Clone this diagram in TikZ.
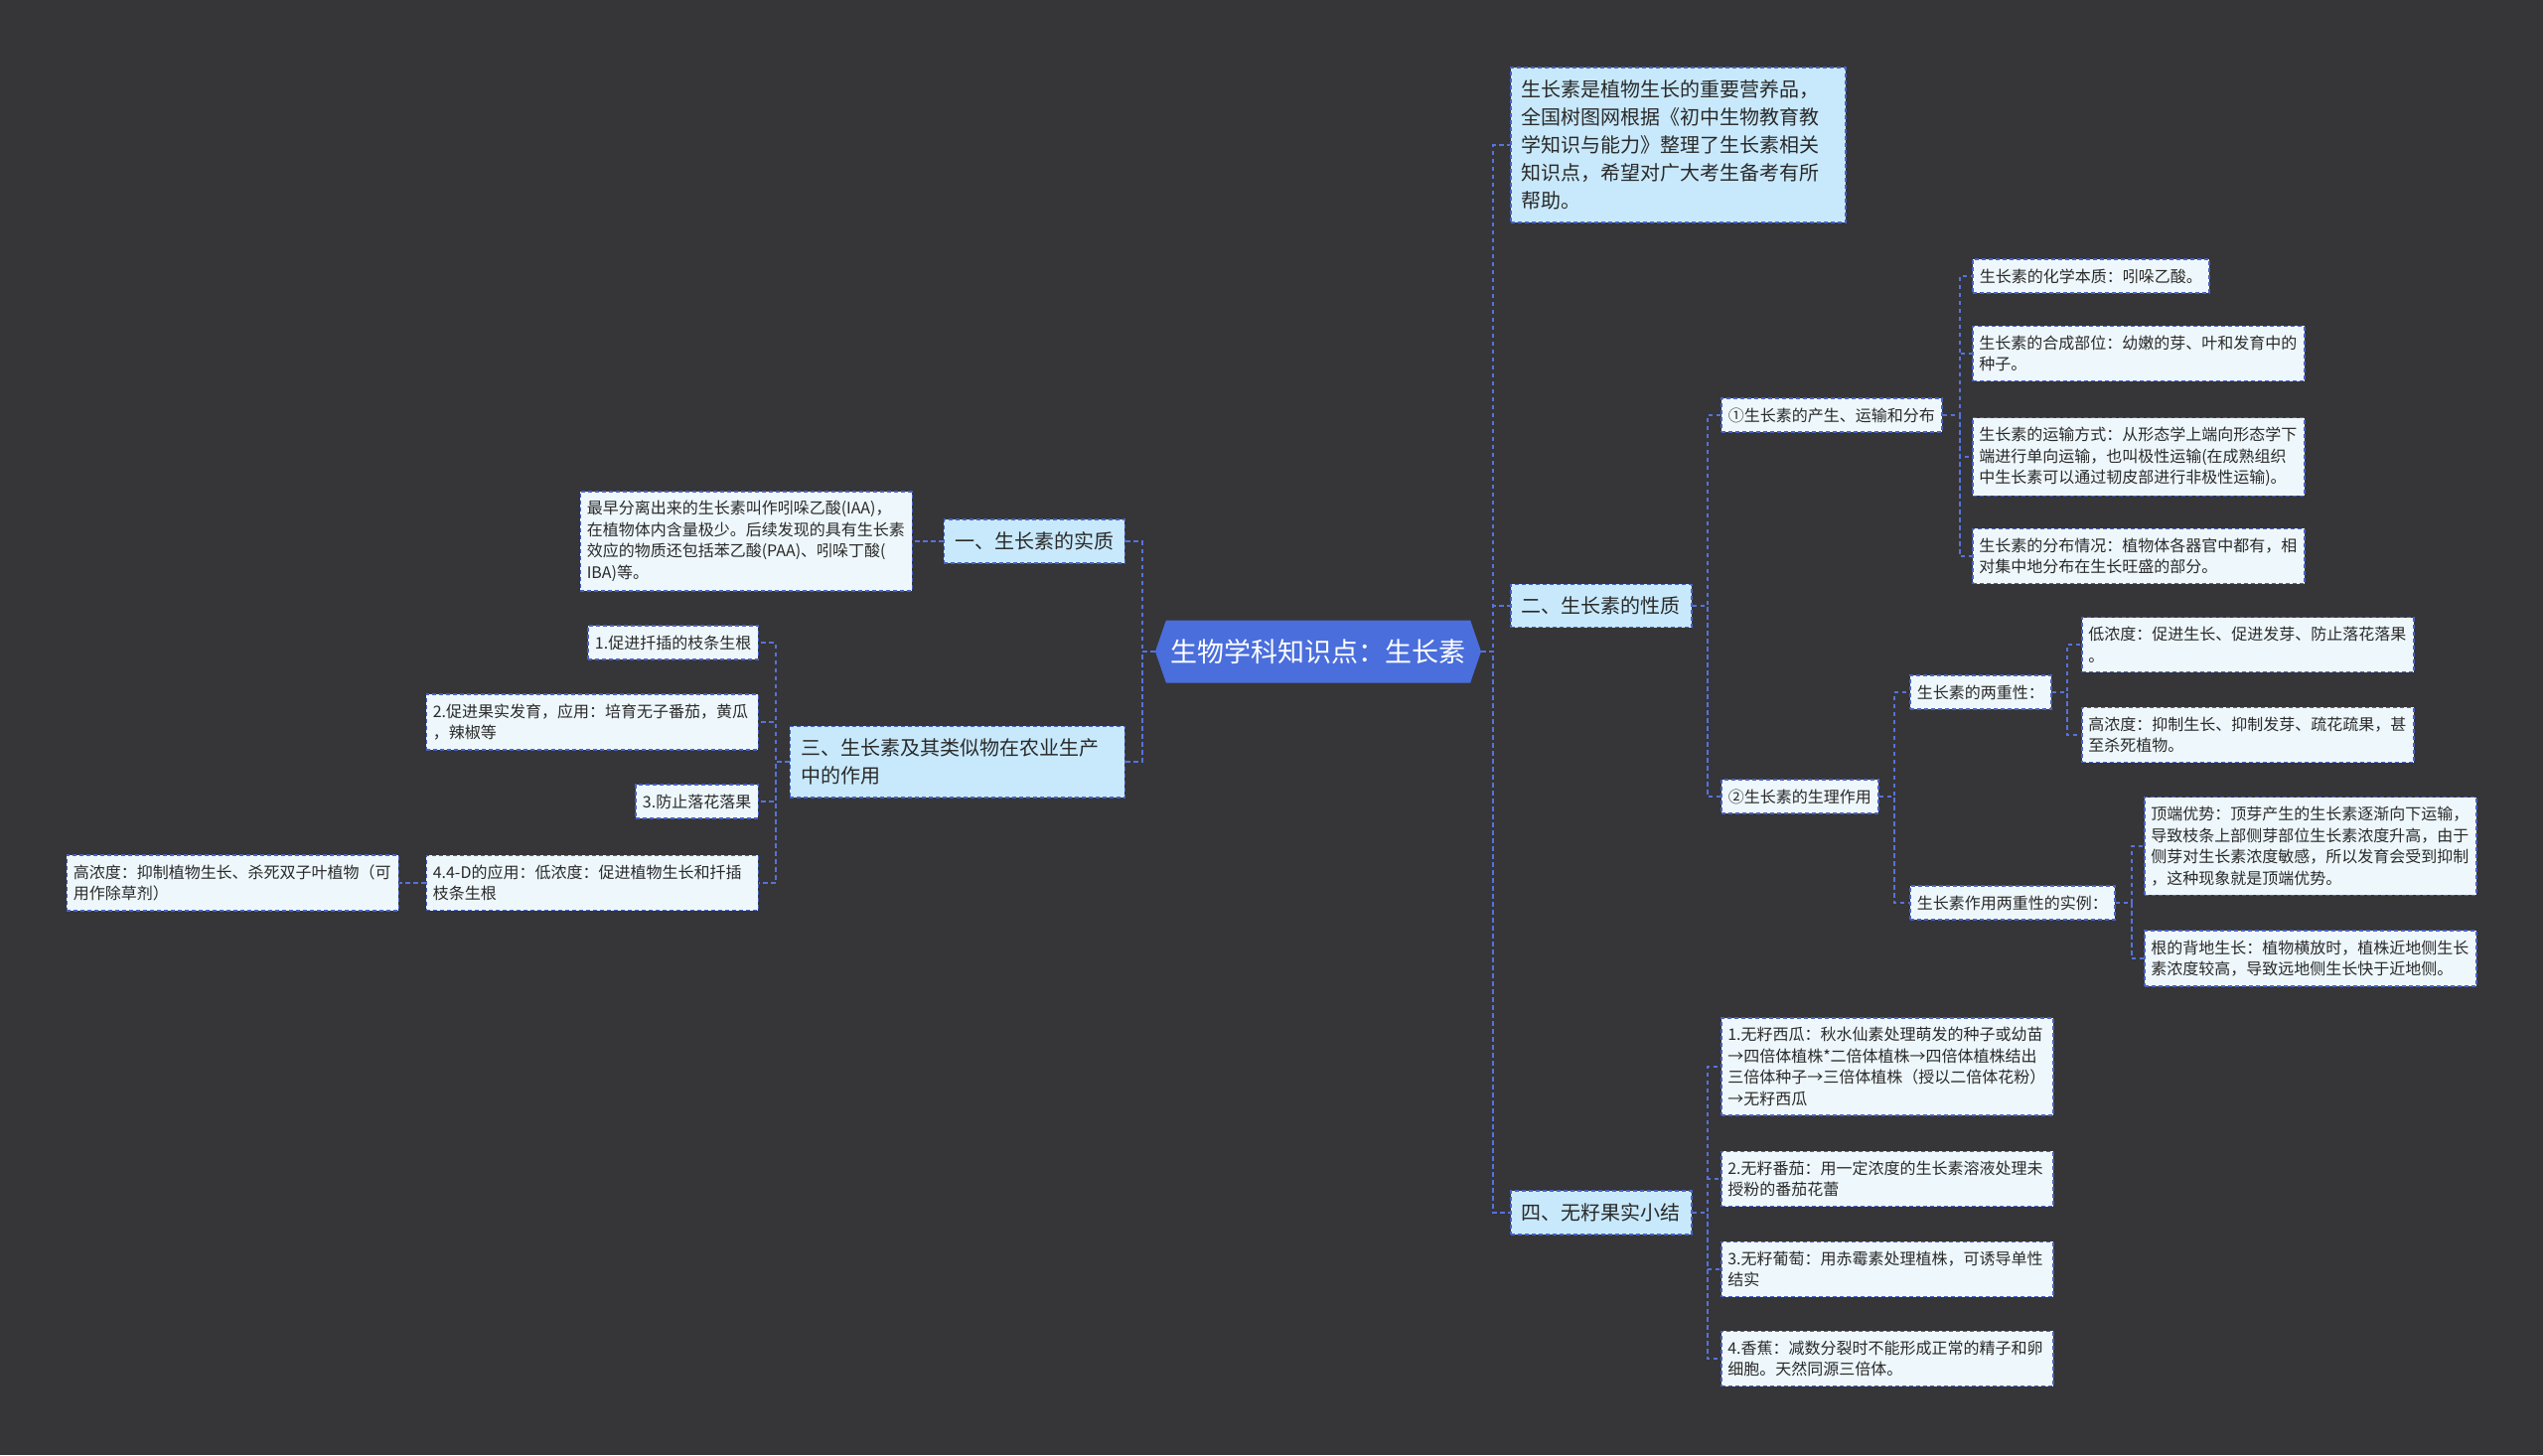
\documentclass[tikz,border=0pt]{standalone}
\usepackage{fontspec}
\setmainfont{Noto Sans CJK SC}
\usetikzlibrary{shapes.symbols}

\definecolor{bgdark}{HTML}{363538}
\definecolor{rootblue}{HTML}{4A6EDC}
\definecolor{topicblue}{HTML}{C8E9FB}
\definecolor{leafwhite}{HTML}{EEF7FB}
\definecolor{edgeblue}{HTML}{4762C4}
\definecolor{linkblue}{HTML}{5573DC}
\definecolor{inkgray}{HTML}{2A2A2A}

\tikzset{
  rootnode/.style={signal, signal to=east and west, signal pointer angle=142,
    fill=rootblue, text=white, font=\fontsize{27}{32}\selectfont,
    minimum width=328pt, minimum height=63pt, inner sep=0pt},
  topic/.style={draw=edgeblue, fill=topicblue, dash pattern=on 4pt off 3pt,
    line width=1.5pt, text=inkgray, font=\fontsize{20}{28}\selectfont,
    align=left, inner xsep=11pt, inner ysep=12.5pt},
  leaf/.style={draw=edgeblue, fill=leafwhite, dash pattern=on 4pt off 3pt,
    line width=1.5pt, text=inkgray, font=\fontsize{16}{21.5}\selectfont,
    align=left, inner xsep=7pt, inner ysep=9.5pt},
  wideleaf/.style={leaf, text width=321pt, inner xsep=6.5pt},
  link/.style={draw=linkblue, dash pattern=on 4.5pt off 3.5pt, line width=2pt},
}

\begin{document}
\begin{tikzpicture}[x=1pt,y=-1pt]
  % 背景
  \fill[bgdark] (0,0) rectangle (2560,1465);
  \useasboundingbox (0,0) rectangle (2560,1465);

  % 中心主题
  \node[rootnode] (root) at (1327,656) {生物学科知识点：生长素};

  % 右侧：引言、二、四
  \node[topic, text width=315pt, anchor=west] (intro) at (1520,146)
    {生长素是植物生长的重要营养品，\\全国树图网根据《初中生物教育教\\学知识与能力》整理了生长素相关\\知识点，希望对广大考生备考有所\\帮助。};
  \node[topic, anchor=west] (xingzhi) at (1520,610) {二、生长素的性质};
  \node[topic, anchor=west] (wuzi) at (1520,1221) {四、无籽果实小结};

  % 左侧：一、三
  \node[topic, anchor=east] (shizhi) at (1133,545) {一、生长素的实质};
  \node[wideleaf, anchor=east] (shizhiText) at (919,545)
    {最早分离出来的生长素叫作吲哚乙酸(IAA)，\\在植物体内含量极少。后续发现的具有生长素\\效应的物质还包括苯乙酸(PAA)、吲哚丁酸(\\IBA)等。};
  \node[topic, text width=315pt, anchor=east] (zuoyong) at (1133,767)
    {三、生长素及其类似物在农业生产\\中的作用};

  % 三 的分支
  \node[leaf, anchor=east] (use1) at (764,647) {1.促进扦插的枝条生根};
  \node[wideleaf, anchor=east] (use2) at (764,727) {2.促进果实发育，应用：培育无子番茄，黄瓜\\，辣椒等};
  \node[leaf, anchor=east] (use3) at (764,807) {3.防止落花落果};
  \node[wideleaf, anchor=east] (use4) at (764,889) {4.4-D的应用：低浓度：促进植物生长和扦插\\枝条生根};
  \node[wideleaf, anchor=east] (use4High) at (402,889) {高浓度：抑制植物生长、杀死双子叶植物（可\\用作除草剂）};

  % 二 的分支
  \node[leaf, anchor=west] (chansheng) at (1732,418) {①生长素的产生、运输和分布};
  \node[leaf, anchor=west] (shengli) at (1732,802) {②生长素的生理作用};

  \node[leaf, anchor=west] (huaxue) at (1985,278) {生长素的化学本质：吲哚乙酸。};
  \node[wideleaf, anchor=west] (hecheng) at (1985,356) {生长素的合成部位：幼嫩的芽、叶和发育中的\\种子。};
  \node[wideleaf, anchor=west] (yunshu) at (1985,460) {生长素的运输方式：从形态学上端向形态学下\\端进行单向运输，也叫极性运输(在成熟组织\\中生长素可以通过韧皮部进行非极性运输)。};
  \node[wideleaf, anchor=west] (fenbu) at (1985,560) {生长素的分布情况：植物体各器官中都有，相\\对集中地分布在生长旺盛的部分。};

  \node[leaf, anchor=west] (liangchong) at (1922,697) {生长素的两重性：};
  \node[leaf, anchor=west] (shili) at (1922,909) {生长素作用两重性的实例：};
  \node[wideleaf, anchor=west] (diNong) at (2095,649) {低浓度：促进生长、促进发芽、防止落花落果\\。};
  \node[wideleaf, anchor=west] (gaoNong) at (2095,740) {高浓度：抑制生长、抑制发芽、疏花疏果，甚\\至杀死植物。};
  \node[wideleaf, anchor=west] (dingduan) at (2158,852) {顶端优势：顶芽产生的生长素逐渐向下运输，\\导致枝条上部侧芽部位生长素浓度升高，由于\\侧芽对生长素浓度敏感，所以发育会受到抑制\\，这种现象就是顶端优势。};
  \node[wideleaf, anchor=west] (beidi) at (2158,965) {根的背地生长：植物横放时，植株近地侧生长\\素浓度较高，导致远地侧生长快于近地侧。};

  % 四 的分支
  \node[wideleaf, anchor=west] (xigua) at (1732,1074) {1.无籽西瓜：秋水仙素处理萌发的种子或幼苗\\→四倍体植株*二倍体植株→四倍体植株结出\\三倍体种子→三倍体植株（授以二倍体花粉）\\→无籽西瓜};
  \node[wideleaf, anchor=west] (fanqie) at (1732,1187) {2.无籽番茄：用一定浓度的生长素溶液处理未\\授粉的番茄花蕾};
  \node[wideleaf, anchor=west] (putao) at (1732,1278) {3.无籽葡萄：用赤霉素处理植株，可诱导单性\\结实};
  \node[wideleaf, anchor=west] (xiangjiao) at (1732,1368) {4.香蕉：减数分裂时不能形成正常的精子和卵\\细胞。天然同源三倍体。};

  % 连线
  \draw[link] (root.east) -- ++(12,0) |- (intro.west);
  \draw[link] (root.east) -- ++(12,0) |- (xingzhi.west);
  \draw[link] (root.east) -- ++(12,0) |- (wuzi.west);
  \draw[link] (root.west) -- ++(-13,0) |- (shizhi.east);
  \draw[link] (root.west) -- ++(-13,0) |- (zuoyong.east);

  \draw[link] (shizhi.west) -- (shizhiText.east);
  \draw[link] (zuoyong.west) -- ++(-14,0) |- (use1.east);
  \draw[link] (zuoyong.west) -- ++(-14,0) |- (use2.east);
  \draw[link] (zuoyong.west) -- ++(-14,0) |- (use3.east);
  \draw[link] (zuoyong.west) -- ++(-14,0) |- (use4.east);
  \draw[link] (use4.west) -- (use4High.east);

  \draw[link] (xingzhi.east) -- ++(15,0) |- (chansheng.west);
  \draw[link] (xingzhi.east) -- ++(15,0) |- (shengli.west);
  \draw[link] (chansheng.east) -- ++(17,0) |- (huaxue.west);
  \draw[link] (chansheng.east) -- ++(17,0) |- (hecheng.west);
  \draw[link] (chansheng.east) -- ++(17,0) |- (yunshu.west);
  \draw[link] (chansheng.east) -- ++(17,0) |- (fenbu.west);
  \draw[link] (shengli.east) -- ++(15,0) |- (liangchong.west);
  \draw[link] (shengli.east) -- ++(15,0) |- (shili.west);
  \draw[link] (liangchong.east) -- ++(15,0) |- (diNong.west);
  \draw[link] (liangchong.east) -- ++(15,0) |- (gaoNong.west);
  \draw[link] (shili.east) -- ++(16,0) |- (dingduan.west);
  \draw[link] (shili.east) -- ++(16,0) |- (beidi.west);

  \draw[link] (wuzi.east) -- ++(15,0) |- (xigua.west);
  \draw[link] (wuzi.east) -- ++(15,0) |- (fanqie.west);
  \draw[link] (wuzi.east) -- ++(15,0) |- (putao.west);
  \draw[link] (wuzi.east) -- ++(15,0) |- (xiangjiao.west);
\end{tikzpicture}
\end{document}
